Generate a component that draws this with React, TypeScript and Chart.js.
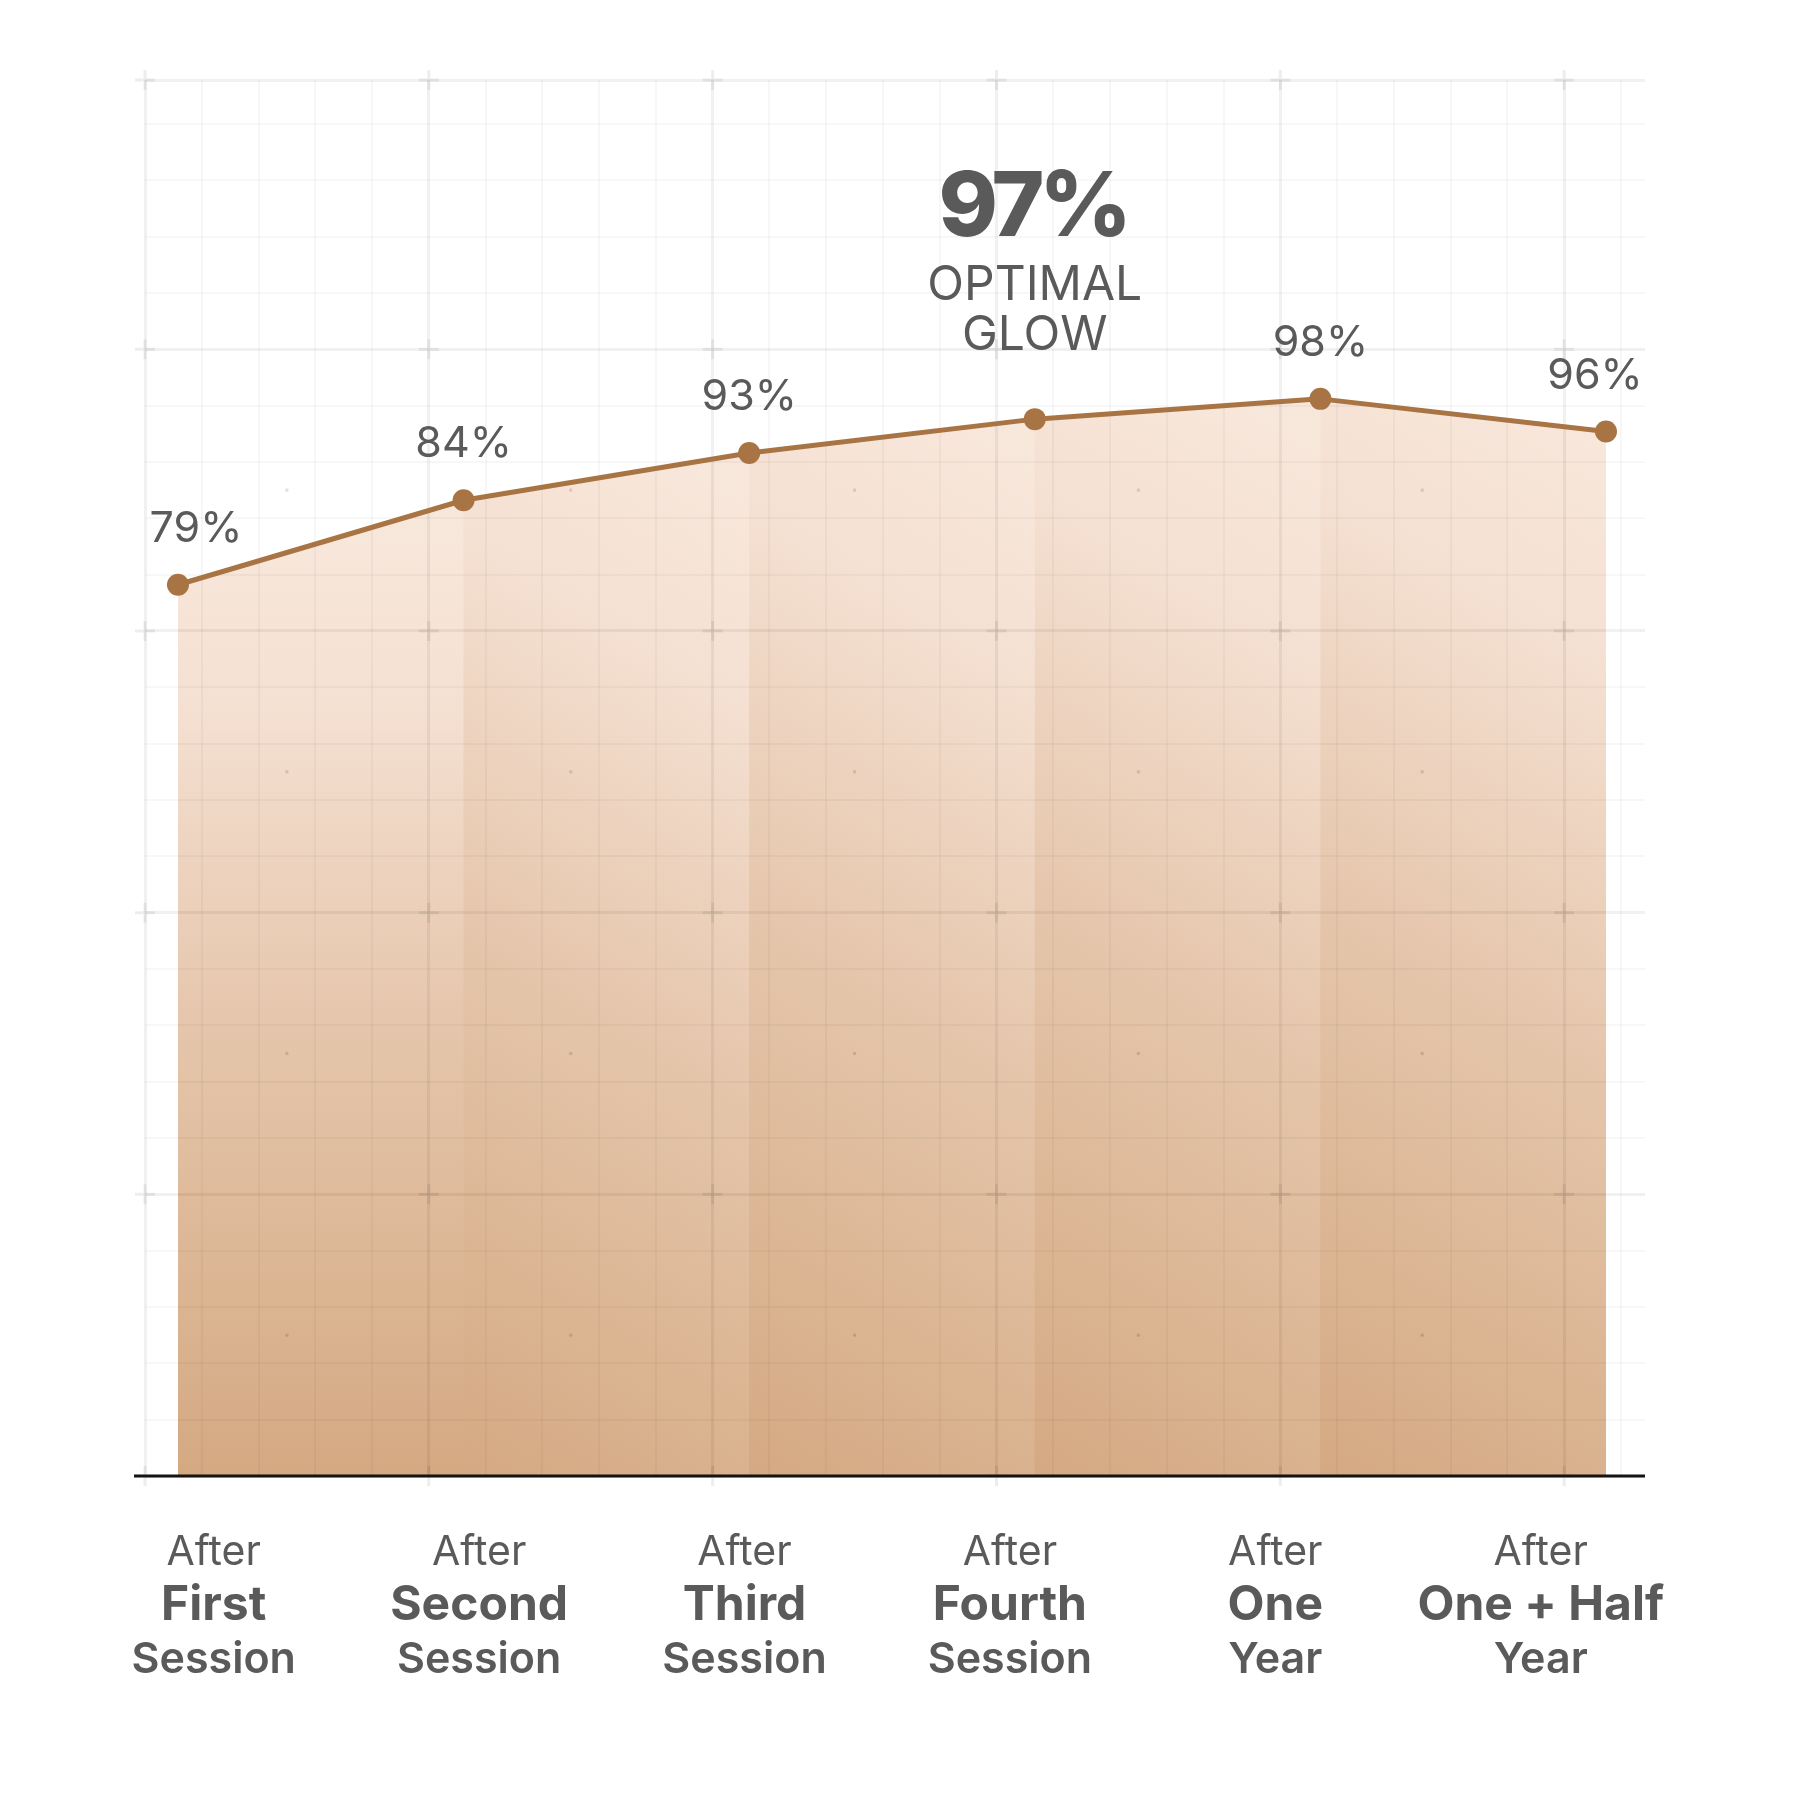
import React, { useEffect, useRef } from "react";
import { Chart, registerables } from "chart.js";

Chart.register(...registerables);

// ---------------- data ----------------
const labelTop = ["After", "After", "After", "After", "After", "After"];
const labelMain = ["First", "Second", "Third", "Fourth", "One", "One + Half"];
const labelBottom = ["Session", "Session", "Session", "Session", "Year", "Year"];
const glowLevel = [79.1, 86.6, 90.8, 93.8, 95.6, 92.7];
const glowText = ["79%", "84%", "93%", "97%", "98%", "96%"];
const highlightIndex = 3;
const highlightCaption = ["OPTIMAL", "GLOW"];

// grid settings
const yMax = 123.9;
const yStep = 5;
const yMajorEvery = 25;
const gridXMax = 5.285;
const gridXStep = 0.2;

// ---------------- style ----------------
const LINE = "#a97444";
const TEXT = "#5a5a5a";
const FONT = "Inter, 'Open Sans', 'Noto Sans', sans-serif";
const STOPS: [number, string][] = [
  [0, "#d4a982"],
  [0.45, "#e5c5aa"],
  [0.8, "#f5e1d3"],
  [1, "#f8e8dc"],
];

const isMajorX = (v: number) => Math.abs(v - Math.round(v)) < 1e-6;
const isMajorY = (v: number) => Math.abs(v % yMajorEvery) < 1e-6 || Math.abs(v - yMax) < 1e-6;

function addStops(g: CanvasGradient) {
  for (const [o, c] of STOPS) g.addColorStop(o, c);
  return g;
}

function segmentFill(ctx: any) {
  const chart = ctx.chart;
  const area = chart.chartArea;
  if (!area) return "#ecd3bf";
  const c = chart.ctx as CanvasRenderingContext2D;
  const p0 = ctx.p0;
  const p1 = ctx.p1;
  const bottom = area.bottom;
  const top = Math.min(p0.y, p1.y);
  if (ctx.p0DataIndex === 0) {
    return addStops(c.createLinearGradient(0, bottom, 0, top));
  }
  const dx = 0.5;
  const dy = -0.866;
  const L = (p1.x - p0.x) * dx + (bottom - top) * -dy;
  return addStops(c.createLinearGradient(p0.x, bottom, p0.x + dx * L, bottom + dy * L));
}

function baseFill(ctx: any) {
  const chart = ctx.chart;
  const area = chart.chartArea;
  if (!area) return "#ecd3bf";
  return addStops(chart.ctx.createLinearGradient(0, area.bottom, 0, area.top + 300));
}

const labelNudge = [18, 0, 0, 0, 0, -11];

const decorPlugin = {
  id: "decor",
  beforeDatasetsDraw(chart: any) {
    const { ctx, chartArea, scales } = chart;
    const xs = scales.xg;
    const ys = scales.y;
    const mx: number[] = xs.ticks
      .filter((t: any) => isMajorX(t.value))
      .map((t: any) => xs.getPixelForValue(t.value));
    const myAll: number[] = ys.ticks
      .filter((t: any) => isMajorY(t.value))
      .map((t: any) => ys.getPixelForValue(t.value));
    const myFull: number[] = ys.ticks
      .filter((t: any) => Math.abs(t.value % yMajorEvery) < 1e-6)
      .map((t: any) => ys.getPixelForValue(t.value));
    ctx.save();
    ctx.strokeStyle = "rgba(0,0,0,0.07)";
    ctx.lineWidth = 3;
    const arm = 10;
    for (const x of mx) {
      for (const y of myAll) {
        ctx.beginPath();
        ctx.moveTo(x - arm, y);
        ctx.lineTo(x + arm, y);
        ctx.moveTo(x, y - arm);
        ctx.lineTo(x, y + arm);
        ctx.stroke();
      }
    }
    ctx.fillStyle = "rgba(0,0,0,0.13)";
    for (let i = 0; i < mx.length - 1; i++) {
      for (let j = 0; j < myFull.length - 1; j++) {
        const cx = (mx[i] + mx[i + 1]) / 2;
        const cy = (myFull[j] + myFull[j + 1]) / 2;
        ctx.fillRect(cx - 1.5, cy - 1.5, 3, 3);
      }
    }
    ctx.strokeStyle = "#141414";
    ctx.lineWidth = 3;
    ctx.beginPath();
    ctx.moveTo(chartArea.left - 11, chartArea.bottom);
    ctx.lineTo(chartArea.right, chartArea.bottom);
    ctx.stroke();
    ctx.restore();
  },
  afterDraw(chart: any) {
    const { ctx, chartArea } = chart;
    const meta = chart.getDatasetMeta(0);
    ctx.save();
    ctx.fillStyle = TEXT;
    ctx.textAlign = "center";
    ctx.textBaseline = "alphabetic";
    meta.data.forEach((pt: any, i: number) => {
      if (i === highlightIndex) {
        ctx.font = `800 90px ${FONT}`;
        (ctx as any).letterSpacing = "-5px";
        ctx.fillText(glowText[i], pt.x - 2, pt.y - 183);
        (ctx as any).letterSpacing = "0px";
        ctx.font = `400 48px ${FONT}`;
        ctx.fillText(highlightCaption[0], pt.x, pt.y - 119);
        ctx.fillText(highlightCaption[1], pt.x, pt.y - 69);
      } else {
        ctx.font = `400 43px ${FONT}`;
        ctx.fillText(glowText[i], pt.x + labelNudge[i], pt.y - 43);
      }
    });
    const xl = chart.scales.xl;
    labelMain.forEach((m, i) => {
      const x = xl.getPixelForValue(i);
      ctx.font = `400 41px ${FONT}`;
      ctx.fillText(labelTop[i], x, chartArea.bottom + 89);
      ctx.font = `700 48px ${FONT}`;
      ctx.fillText(m, x, chartArea.bottom + 144);
      ctx.font = `600 43px ${FONT}`;
      ctx.fillText(labelBottom[i], x, chartArea.bottom + 197);
    });
    ctx.restore();
  },
};

export default function App() {
  const ref = useRef<HTMLCanvasElement | null>(null);
  useEffect(() => {
    if (!ref.current) return;
    const points = glowLevel.map((v, i) => ({ x: i, y: v }));
    const chart = new Chart(ref.current, {
      type: "line",
      data: {
        datasets: [
          {
            data: points,
            borderColor: LINE,
            borderWidth: 5,
            pointRadius: 11,
            pointBackgroundColor: LINE,
            pointBorderWidth: 0,
            pointHoverRadius: 11,
            tension: 0,
            fill: "origin",
            backgroundColor: "#ecd3bf",
            segment: { backgroundColor: segmentFill },
            clip: false,
          } as any,
          {
            data: points,
            borderWidth: 0,
            pointRadius: 0,
            pointHoverRadius: 0,
            tension: 0,
            fill: "origin",
            backgroundColor: baseFill,
          } as any,
        ],
      },
      options: {
        responsive: false,
        animation: false,
        devicePixelRatio: 1,
        layout: { padding: { left: 145, right: 156, top: 80, bottom: 325 } },
        plugins: {
          legend: { display: false },
          tooltip: { enabled: false },
          filler: { drawTime: "beforeDraw" },
        } as any,
        scales: {
          x: { type: "linear", min: -0.1155, max: 5.1366, display: false },
          xl: { type: "linear", min: -0.2589, max: 5.393, display: false },
          xg: {
            type: "linear",
            position: "bottom",
            min: 0,
            max: gridXMax,
            ticks: { display: false },
            afterBuildTicks: (scale: any) => {
              const t = [];
              for (let k = 0; k * gridXStep <= gridXMax + 1e-9; k++) {
                t.push({ value: Math.round(k * gridXStep * 1000) / 1000 });
              }
              scale.ticks = t;
            },
            border: { display: false },
            grid: {
              drawTicks: false,
              color: (c: any) => (isMajorX(c.tick.value) ? "rgba(0,0,0,0.055)" : "rgba(0,0,0,0.03)"),
              lineWidth: (c: any) => (isMajorX(c.tick.value) ? 3 : 2),
            },
          },
          y: {
            type: "linear",
            min: 0,
            max: yMax,
            ticks: { display: false },
            afterBuildTicks: (scale: any) => {
              const t = [];
              for (let v = 0; v <= yMax; v += yStep) t.push({ value: v });
              t.push({ value: yMax });
              scale.ticks = t;
            },
            border: { display: false },
            grid: {
              drawTicks: false,
              color: (c: any) => (isMajorY(c.tick.value) ? "rgba(0,0,0,0.055)" : "rgba(0,0,0,0.03)"),
              lineWidth: (c: any) => (isMajorY(c.tick.value) ? 3 : 2),
            },
          },
        } as any,
      },
      plugins: [decorPlugin],
    });
    return () => chart.destroy();
  }, []);
  return (
    <div style={{ position: "absolute", left: 0, top: 0, width: 1801, height: 1801, background: "#ffffff" }}>
      <canvas ref={ref} width={1801} height={1801} style={{ display: "block" }} />
    </div>
  );
}
